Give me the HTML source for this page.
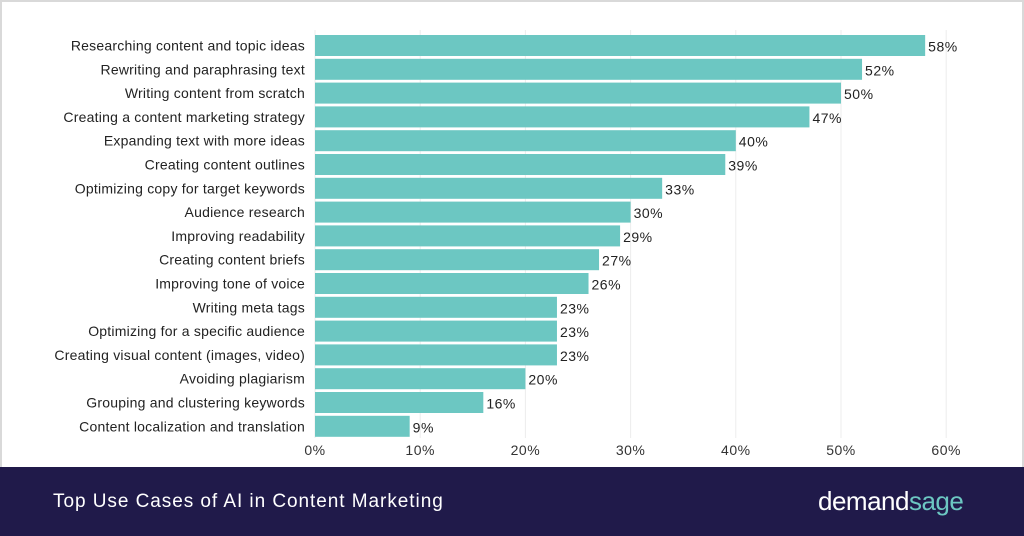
<!DOCTYPE html>
<html><head><meta charset="utf-8"><style>
body{margin:0;width:1024px;height:536px;overflow:hidden;background:#fff;font-family:"Liberation Sans",sans-serif}
#wrap{position:absolute;left:0;top:0;width:1024px;height:536px;box-sizing:border-box;border:2px solid #d9d9d9;border-bottom:none}
#footer{position:absolute;left:0;top:467px;width:1024px;height:69px;background:#201a4a}
#title{position:absolute;left:53px;top:24px;color:#fff;font-size:19px;letter-spacing:0.95px}
#logo{position:absolute;left:818px;top:19px;font-size:26px;color:#fff;letter-spacing:-0.5px}
</style></head><body>
<div id="wrap"></div>
<svg id="chart" width="1024" height="467" style="position:absolute;left:0;top:0"></svg>
<div id="footer">
<div id="title">Top Use Cases of AI in Content Marketing</div>
<div id="logo">demand<span style="color:#6cc7c2">sage</span></div>
</div>
<script>
const categories=["Researching content and topic ideas","Rewriting and paraphrasing text","Writing content from scratch","Creating a content marketing strategy","Expanding text with more ideas","Creating content outlines","Optimizing copy for target keywords","Audience research","Improving readability","Creating content briefs","Improving tone of voice","Writing meta tags","Optimizing for a specific audience","Creating visual content (images, video)","Avoiding plagiarism","Grouping and clustering keywords","Content localization and translation"];
const values=[58,52,50,47,40,39,33,30,29,27,26,23,23,23,20,16,9];
const ticks=[0,10,20,30,40,50,60];
const NS="http://www.w3.org/2000/svg",svg=document.getElementById('chart');
const x0=315,pxPer=10.52,yTop=35,step=23.8,bh=21;
const xs=v=>x0+v*pxPer, ys=i=>yTop+i*step;
function mk(t,a){const e=document.createElementNS(NS,t);for(const k in a)e.setAttribute(k,a[k]);svg.appendChild(e);return e;}
ticks.forEach(t=>{
 const g=mk('line',{x1:xs(t),x2:xs(t),y1:30,y2:438,stroke:'#ececec','stroke-width':1});
 
 
 const l=mk('text',{x:xs(t),y:455,'text-anchor':'middle','font-size':14,fill:'#333','font-family':'Liberation Sans','letter-spacing':0.5});
 l.textContent=t+'%';
 
 
});
categories.forEach((c,i)=>{
 const y=ys(i);
 const r=mk('rect',{x:x0,y:y,width:xs(values[i])-x0,height:bh,fill:'#6cc7c2'});
 
 
 const l=mk('text',{x:305,y:y+bh/2+5,'text-anchor':'end','font-size':14,fill:'#222','font-family':'Liberation Sans','letter-spacing':0.22});
 l.textContent=c;
 
 
 const v=mk('text',{x:xs(values[i])+3,y:y+bh/2+6,'font-size':14,fill:'#222','font-family':'Liberation Sans','letter-spacing':0.5});
 v.textContent=values[i]+'%';
 
 
});
</script>
</body></html>
